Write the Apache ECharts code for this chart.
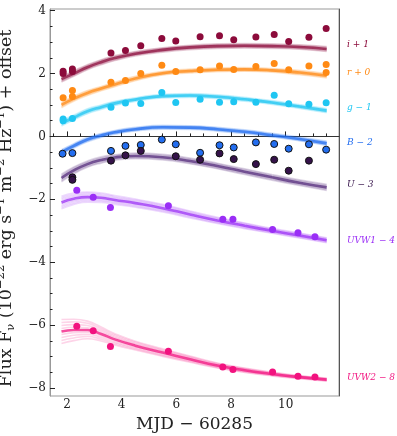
<!DOCTYPE html>
<html>
<head>
<meta charset="utf-8">
<script src="https://cdn.jsdelivr.net/npm/echarts@6/dist/echarts.min.js"></script>
<style>
  html, body { margin: 0; padding: 0; background: #fff; }
  #chart { width: 397px; height: 436px; }
</style>
</head>
<body>
<div id="chart"></div>
<script>
// model grid (MJD - 60285)
const tGrid = [1.8, 2.25, 2.75, 3.25, 3.75, 4.5, 5.5, 6.5, 7.5, 8.5, 9.5, 10.5, 11.5];

// model median curves
const iModel = [1.82, 2.0, 2.2, 2.36, 2.49, 2.63, 2.75, 2.83, 2.87, 2.88, 2.87, 2.84, 2.78];
const rModel = [1.0, 1.2, 1.38, 1.52, 1.65, 1.84, 2.01, 2.08, 2.12, 2.13, 2.10, 2.03, 1.93];
const gModel = [0.42, 0.6, 0.8, 0.93, 1.05, 1.17, 1.28, 1.30, 1.26, 1.18, 1.08, 0.95, 0.82];
const bModel = [-0.5, -0.3, -0.1, 0.03, 0.13, 0.23, 0.29, 0.28, 0.23, 0.15, 0.04, -0.08, -0.22];
const uModel = [-1.32, -1.08, -0.88, -0.75, -0.67, -0.62, -0.66, -0.78, -0.94, -1.12, -1.30, -1.47, -1.62];
const w1Model = [-2.1, -1.98, -1.93, -1.95, -2.02, -2.12, -2.28, -2.48, -2.67, -2.84, -3.0, -3.15, -3.3];
const w2Model = [-6.2, -6.15, -6.15, -6.28, -6.45, -6.65, -6.87, -7.08, -7.28, -7.43, -7.55, -7.65, -7.73];

// half-width of the model spread
const iSpread = [0.09, 0.09, 0.08, 0.08, 0.08, 0.07, 0.07, 0.07, 0.07, 0.07, 0.07, 0.07, 0.08];
const rSpread = [0.09, 0.08, 0.08, 0.07, 0.07, 0.07, 0.06, 0.06, 0.06, 0.06, 0.06, 0.07, 0.07];
const gSpread = [0.09, 0.08, 0.08, 0.07, 0.07, 0.06, 0.06, 0.06, 0.06, 0.06, 0.06, 0.06, 0.07];
const bSpread = [0.08, 0.07, 0.07, 0.06, 0.06, 0.06, 0.06, 0.06, 0.06, 0.06, 0.06, 0.06, 0.07];
const uSpread = [0.12, 0.11, 0.1, 0.1, 0.09, 0.09, 0.09, 0.09, 0.09, 0.09, 0.09, 0.09, 0.1];
const w1Spread = [0.2, 0.18, 0.16, 0.15, 0.14, 0.13, 0.12, 0.11, 0.1, 0.09, 0.08, 0.08, 0.08];
const w2Spread = [0.38, 0.34, 0.28, 0.22, 0.18, 0.14, 0.12, 0.1, 0.08, 0.07, 0.06, 0.05, 0.05];

// photometry [MJD - 60285, flux + offset]
const iObs = [[1.86,2.07],[1.86,2.0],[2.2,2.14],[2.2,2.06],[3.61,2.65],[4.14,2.73],[4.70,2.88],[5.47,3.11],[5.98,3.03],[6.87,3.17],[7.58,3.20],[8.10,3.07],[8.91,3.16],[9.58,3.24],[10.11,3.02],[10.85,3.15],[11.48,3.43]];
const rObs = [[1.86,1.23],[2.2,1.46],[2.2,1.27],[3.61,1.72],[4.14,1.78],[4.70,2.00],[5.47,2.26],[5.98,2.06],[6.87,2.12],[7.58,2.24],[8.10,2.13],[8.91,2.22],[9.58,2.32],[10.11,2.12],[10.85,2.24],[11.48,2.29],[11.48,2.03]];
const gObs = [[1.86,0.55],[1.86,0.5],[2.2,0.57],[3.61,0.93],[4.14,1.06],[4.70,1.05],[5.47,1.40],[5.98,1.08],[6.87,1.18],[7.58,1.09],[8.10,1.10],[8.91,1.09],[9.58,1.31],[10.11,1.04],[10.85,1.02],[11.48,1.07]];
const bObs = [[1.84,-0.55],[2.2,-0.53],[3.61,-0.46],[4.14,-0.30],[4.70,-0.27],[5.47,-0.10],[5.98,-0.25],[6.87,-0.52],[7.58,-0.28],[8.10,-0.35],[8.91,-0.19],[9.58,-0.24],[10.11,-0.39],[10.85,-0.25],[11.48,-0.42]];
const uObs = [[2.2,-1.30],[2.2,-1.38],[3.61,-0.77],[4.14,-0.60],[4.70,-0.46],[5.98,-0.63],[6.87,-0.74],[7.58,-0.54],[8.10,-0.72],[8.91,-0.88],[9.58,-0.74],[10.11,-1.09],[10.85,-0.77]];
const w1Obs = [[2.36,-1.71],[2.96,-1.93],[3.59,-2.26],[5.71,-2.20],[7.70,-2.63],[8.07,-2.63],[9.52,-2.96],[10.45,-3.06],[11.07,-3.19]];
const w2Obs = [[2.36,-6.03],[2.96,-6.18],[3.59,-6.68],[5.71,-6.83],[7.70,-7.33],[8.07,-7.41],[9.52,-7.49],[10.45,-7.62],[11.07,-7.65]];

const xMajor = [2, 4, 6, 8, 10];
const xMinor = [1.5, 2.5, 3, 3.5, 4.5, 5, 5.5, 6.5, 7, 7.5, 8.5, 9, 9.5, 10.5, 11, 11.5];
const yMajor = [-8, -6, -4, -2, 0, 2, 4];
const yMinor = [-7.5, -7, -6.5, -5.5, -5, -4.5, -3.5, -3, -2.5, -1.5, -1, -0.5, 0.5, 1, 1.5, 2.5, 3, 3.5];

const bands = [
  { name: 'i', obs: iObs, model: iModel, spread: iSpread, color: '#8c0b3b', line: '#8c0b3b', edge: null },
  { name: 'r', obs: rObs, model: rModel, spread: rSpread, color: '#ff8a14', line: '#ff8a14', edge: null },
  { name: 'g', obs: gObs, model: gModel, spread: gSpread, color: '#1fc6f2', line: '#1fc6f2', edge: null },
  { name: 'B', obs: bObs, model: bModel, spread: bSpread, color: '#236ef0', line: '#236ef0', edge: '#111' },
  { name: 'U', obs: uObs, model: uModel, spread: uSpread, color: '#35124a', line: '#52287a', edge: '#111' },
  { name: 'UVW1', obs: w1Obs, model: w1Model, spread: w1Spread, color: '#9a2ef6', line: '#9a2ef6', edge: null },
  { name: 'UVW2', obs: w2Obs, model: w2Model, spread: w2Spread, color: '#f2127f', line: '#f2127f', edge: null }
];

// fractions of the spread where faint model draws are traced
const drawFrac = [-1, -0.75, -0.5, -0.25, 0.25, 0.5, 0.75, 1];

const serif = 'DejaVu Serif';
const series = [];
bands.forEach(function (b) {
  drawFrac.forEach(function (f) {
    series.push({
      type: 'line', smooth: true, symbol: 'none', silent: true, z: 1,
      data: tGrid.map(function (t, k) { return [t, b.model[k] + f * b.spread[k]]; }),
      lineStyle: { color: b.line, width: 1.6, opacity: 0.18 }
    });
  });
  series.push({
    type: 'line', data: tGrid.map(function (t, k) { return [t, b.model[k]]; }),
    smooth: true, symbol: 'none', silent: true, z: 2,
    lineStyle: { color: b.line, width: 2.6, opacity: 0.75 }
  });
  series.push({
    type: 'scatter', data: b.obs, symbolSize: 7, z: 5,
    itemStyle: { color: b.color, opacity: 1, borderColor: b.edge || b.color, borderWidth: b.edge ? 1 : 0 }
  });
});

const chart = echarts.init(document.getElementById('chart'), null, { renderer: 'canvas' });
function bandLabel(text, top, color) {
  return {
    type: 'text', left: 347, top: top,
    style: { text: text, fill: color, font: 'italic 9px "DejaVu Serif"' }
  };
}

chart.setOption({
  animation: false,
  grid: { left: 50, right: 58, top: 9, bottom: 40, outerBoundsMode: 'none', show: true, borderColor: '#999', borderWidth: 1 },
  xAxis: [
    {
      type: 'value', min: 1.38, max: 11.95,
      name: 'MJD − 60285', nameLocation: 'middle', nameGap: 17,
      nameTextStyle: { fontFamily: serif, fontSize: 17, color: '#222' },
      axisLine: { lineStyle: { color: '#333' } },
      axisTick: { inside: true, length: 5, customValues: xMajor, lineStyle: { color: '#222' } },
      axisLabel: { customValues: xMajor, fontFamily: serif, fontSize: 12, color: '#222', margin: 3 },
      splitLine: { show: false }
    },
    {
      type: 'value', min: 1.38, max: 11.95, position: 'bottom',
      axisLine: { show: false },
      axisTick: { inside: true, length: 3, customValues: xMinor, lineStyle: { color: '#222' } },
      axisLabel: { show: false }, splitLine: { show: false }
    }
  ],
  yAxis: [
    {
      type: 'value', min: -8.25, max: 4.05,
      name: '{n|Flux F}{s|ν}{n| (10}{p|−22}{n| erg s}{p|−1}{n| m}{p|−2}{n| Hz}{p|−1}{n|) + offset}',
      nameLocation: 'middle', nameGap: 24, nameRotate: 90,
      nameTextStyle: {
        padding: [0, 12, 0, 0],
        rich: {
          n: { fontFamily: serif, fontSize: 17.5, color: '#222', lineHeight: 22 },
          s: { fontFamily: serif, fontSize: 11.5, color: '#222', verticalAlign: 'bottom', lineHeight: 22 },
          p: { fontFamily: serif, fontSize: 11.5, color: '#222', verticalAlign: 'top', lineHeight: 22 }
        }
      },
      axisLine: { show: true, lineStyle: { color: '#999' } },
      axisTick: { inside: true, length: 5, customValues: yMajor, lineStyle: { color: '#222' } },
      axisLabel: {
        customValues: yMajor, fontFamily: serif, fontSize: 12, color: '#222', margin: 4,
        formatter: function (v) { return String(v).replace('-', '−'); }
      },
      splitLine: { show: false }
    },
    {
      type: 'value', min: -8.25, max: 4.05, position: 'left',
      axisLine: { show: false },
      axisTick: { show: true, inside: true, length: 2.5, customValues: yMinor, lineStyle: { color: '#222' } },
      axisLabel: { show: false }, splitLine: { show: false }
    },
    {
      type: 'value', min: -8.25, max: 4.05, position: 'right',
      axisLine: { show: true, lineStyle: { color: '#555' } },
      axisTick: { show: false }, axisLabel: { show: false }, splitLine: { show: false }
    }
  ],
  graphic: [
    bandLabel('i + 1', 40, '#8c0b3b'),
    bandLabel('r + 0', 68, '#ff8a14'),
    bandLabel('g − 1', 103, '#1fc6f2'),
    bandLabel('B − 2', 138, '#236ef0'),
    bandLabel('U − 3', 180, '#35124a'),
    bandLabel('UVW1 − 4', 236, '#9a2ef6'),
    bandLabel('UVW2 − 8', 373, '#f2127f')
  ],
  series: series
});
</script>
</body>
</html>
